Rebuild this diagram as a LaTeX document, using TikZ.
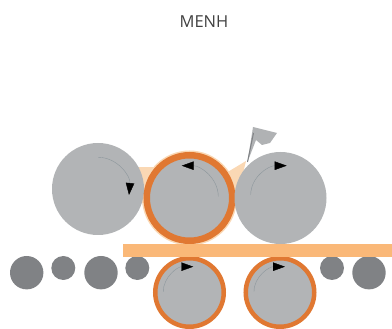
\documentclass[tikz,border=0pt]{standalone}
\usepackage{fontspec}
\setmainfont{Open Sans}
\usepackage{xcolor}
\usetikzlibrary{arrows.meta}
\definecolor{RollGray}{RGB}{178,180,182}
\definecolor{SmallGray}{RGB}{128,130,133}
\definecolor{BladeGray}{RGB}{176,178,180}
\definecolor{RingOrange}{RGB}{224,120,50}
\definecolor{StripOrange}{RGB}{250,184,120}
\definecolor{InkOrange}{RGB}{250,216,180}
\definecolor{TurnGray}{RGB}{140,150,156}

\begin{document}
\begin{tikzpicture}[
  x=1pt, y=1pt,
  roller/.style={circle, fill=RollGray, inner sep=0pt, minimum size=92pt},
  ringbig/.style={circle, fill=RollGray, draw=RingOrange, line width=6.5pt, inner sep=0pt, minimum size=85.5pt},
  ringsmall/.style={circle, fill=RollGray, draw=RingOrange, line width=4.5pt, inner sep=0pt, minimum size=68.5pt},
  idlerbig/.style={circle, fill=SmallGray, inner sep=0pt, minimum size=33.4pt},
  idlersmall/.style={circle, fill=SmallGray, inner sep=0pt, minimum size=24pt},
  turn/.style={-{Triangle[length=12pt, width=8.5pt, color=black]}, color=TurnGray, line width=0.4pt}
]
\useasboundingbox (0,0) rectangle (392,329);
\node[font=\fontsize{16.5}{18}\selectfont, text=black!75] (title) at (204,307.5) {MENH};

\fill[InkOrange] (136,162) -- (160,162) -- (160,135) -- (136,135) -- cycle;
\fill[InkOrange] (226,156) -- (246,168) -- (238,135) -- (225,135) -- cycle;
\fill[InkOrange] (189.5,131) circle (47.5);

\node[roller] (rollerL) at (98,140) {};
\node[ringbig] (rollerC) at (189.5,131) {};
\node[roller] (rollerR) at (280.5,131) {};
\node[ringsmall] (lowerL) at (189.5,36.5) {};
\node[ringsmall] (lowerR) at (280,36.5) {};
\node[idlerbig] (idlerA) at (26.7,56.3) {};
\node[idlersmall] (idlerB) at (63.3,61) {};
\node[idlerbig] (idlerC) at (101,56.3) {};
\node[idlersmall] (idlerD) at (137.3,61) {};
\node[idlersmall] (idlerE) at (332,61) {};
\node[idlerbig] (idlerF) at (369,56.3) {};

\fill[StripOrange] (123,72.3) rectangle (392,85);

\fill[BladeGray] (253,202) -- (277,196) -- (270,186) -- (262,184) -- (256,189) -- (247.5,167) -- cycle;
\draw[SmallGray, line width=1pt] (253.5,196) -- (247.5,167);

\coordinate (turnLa) at (98.3,171.7);
\coordinate (turnLb) at (129,134);
\coordinate (turnCa) at (218.3,132.3);
\coordinate (turnCb) at (181.7,163.3);
\coordinate (turnRa) at (250.7,134);
\coordinate (turnRb) at (286.7,163.3);
\coordinate (turnSa) at (163.3,37.3);
\coordinate (turnSb) at (193.3,62.3);
\coordinate (turnTa) at (254,37.3);
\coordinate (turnTb) at (285,62.3);

\draw[turn] (turnLa) to[out=0, in=85] (turnLb);
\draw[turn] (turnCa) to[out=90, in=0] (turnCb);
\draw[turn] (turnRa) to[out=90, in=180] (turnRb);
\draw[turn] (turnSa) to[out=90, in=180] (turnSb);
\draw[turn] (turnTa) to[out=90, in=180] (turnTb);
\end{tikzpicture}
\end{document}
